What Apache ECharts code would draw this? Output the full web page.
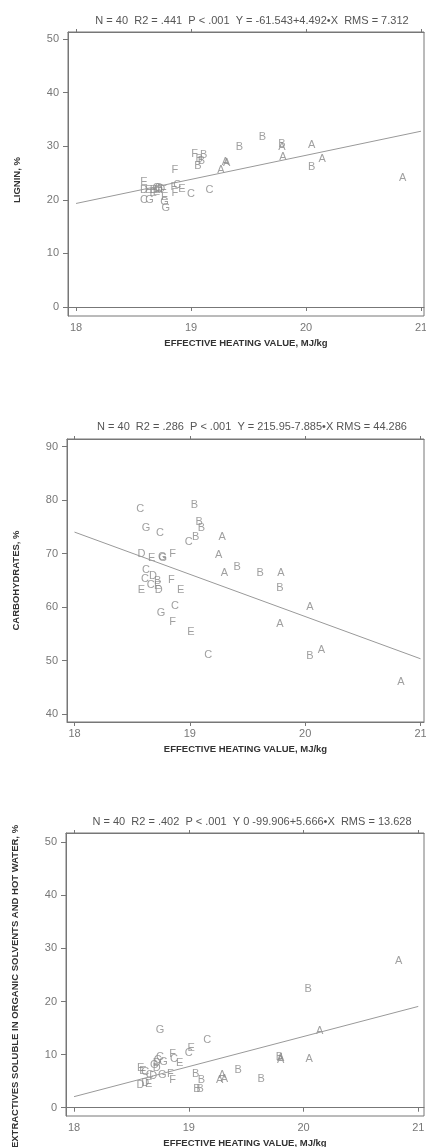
<!DOCTYPE html>
<html>
<head>
<meta charset="utf-8">
<script src="https://cdn.jsdelivr.net/npm/echarts@6/dist/echarts.min.js"></script>
<style>
  html, body { margin: 0; padding: 0; background: #fff; }
  #chart { width: 426px; height: 1147px; }
</style>
</head>
<body>
<div id="chart"></div>
<script>
// tick labels
const xTicks = [18, 19, 20, 21];
const ligninTicks = [0, 10, 20, 30, 40, 50];
const carbTicks = [40, 50, 60, 70, 80, 90];
const extrTicks = [0, 10, 20, 30, 40, 50];

// regression lines: [intercept, slope]
const ligninFit = [-61.543, 4.492];
const carbFit = [215.95, -7.885];
const extrFit = [-99.906, 5.666];

// points: [heating value, percent, group letter]
const ligninPts = [
  [19.79, 29.8, 'A'], [19.80, 27.9, 'A'], [20.05, 30.2, 'A'], [20.14, 27.7, 'A'],
  [20.84, 24.0, 'A'], [19.30, 27.1, 'A'], [19.31, 26.8, 'A'], [19.26, 25.5, 'A'],
  [19.62, 31.8, 'B'], [19.42, 29.8, 'B'], [19.79, 30.5, 'B'], [20.05, 26.1, 'B'],
  [19.11, 28.4, 'B'], [19.07, 27.7, 'B'], [19.09, 27.3, 'B'], [19.06, 26.3, 'B'],
  [18.88, 22.8, 'C'], [19.00, 21.0, 'C'], [19.16, 21.8, 'C'], [18.59, 20.0, 'C'], [18.70, 22.2, 'C'],
  [18.59, 21.8, 'D'], [18.72, 21.9, 'D'], [18.74, 22.1, 'D'],
  [18.59, 23.4, 'E'], [18.92, 22.0, 'E'], [18.63, 21.8, 'E'], [18.77, 20.5, 'E'], [18.67, 21.2, 'E'],
  [18.86, 25.6, 'F'], [19.03, 28.5, 'F'], [18.85, 22.3, 'F'], [18.86, 21.2, 'F'], [18.67, 21.8, 'F'],
  [18.64, 20.0, 'G'], [18.78, 18.4, 'G'], [18.77, 19.6, 'G'], [18.72, 22.2, 'G'], [18.76, 21.8, 'F'], [18.70, 21.4, 'E']
];

const carbPts = [
  [19.28, 73.2, 'A'], [19.25, 69.7, 'A'], [19.30, 66.3, 'A'], [19.79, 66.3, 'A'],
  [20.04, 60.1, 'A'], [19.78, 56.9, 'A'], [20.14, 52.0, 'A'], [20.83, 46.0, 'A'],
  [19.04, 79.0, 'B'], [19.08, 75.9, 'B'], [19.10, 74.7, 'B'], [19.05, 73.2, 'B'],
  [19.41, 67.5, 'B'], [19.61, 66.3, 'B'], [19.78, 63.5, 'B'], [20.04, 50.9, 'B'], [18.72, 64.8, 'B'],
  [18.57, 78.4, 'C'], [18.74, 73.9, 'C'], [18.99, 72.2, 'C'], [18.62, 67.0, 'C'], [18.61, 65.3, 'C'],
  [18.66, 64.2, 'C'], [18.87, 60.3, 'C'], [19.16, 51.1, 'C'],
  [18.58, 70.0, 'D'], [18.68, 65.9, 'D'], [18.73, 63.3, 'D'],
  [18.67, 69.1, 'E'], [18.72, 64.0, 'E'], [18.58, 63.3, 'E'], [18.92, 63.3, 'E'], [19.01, 55.3, 'E'],
  [18.85, 70.0, 'F'], [18.84, 65.1, 'F'], [18.85, 57.2, 'F'],
  [18.62, 74.7, 'G'], [18.76, 69.3, 'G'], [18.765, 69.2, 'G'], [18.75, 58.9, 'G']
];

const extrPts = [
  [20.83, 27.7, 'A'], [20.14, 14.4, 'A'], [19.80, 9.0, 'A'], [19.80, 9.3, 'A'], [20.05, 9.2, 'A'],
  [19.29, 6.1, 'A'], [19.27, 5.2, 'A'], [19.31, 5.5, 'A'],
  [20.04, 22.3, 'B'], [19.79, 9.6, 'B'], [19.43, 7.2, 'B'], [19.63, 5.4, 'B'],
  [19.06, 6.3, 'B'], [19.11, 5.2, 'B'], [19.07, 3.5, 'B'], [19.10, 3.5, 'B'],
  [19.16, 12.7, 'C'], [19.00, 10.4, 'C'], [18.75, 9.5, 'C'], [18.87, 9.1, 'C'], [18.62, 6.7, 'C'], [18.66, 6.1, 'C'],
  [18.72, 8.4, 'D'], [18.72, 7.4, 'D'], [18.69, 5.9, 'D'], [18.58, 4.3, 'D'], [18.62, 4.6, 'D'],
  [19.02, 11.3, 'E'], [18.92, 8.4, 'E'], [18.58, 7.4, 'E'], [18.65, 4.4, 'E'],
  [18.86, 10.1, 'F'], [18.84, 6.4, 'F'], [18.86, 5.2, 'F'],
  [18.75, 14.7, 'G'], [18.78, 8.6, 'G'], [18.77, 6.1, 'G'], [18.70, 8.0, 'G'], [18.60, 7.0, 'E'], [18.73, 9.0, 'C']
];

const titles = [
  'N = 40  R2 = .441  P < .001  Y = -61.543+4.492\u2022X  RMS = 7.312',
  'N = 40  R2 = .286  P < .001  Y = 215.95-7.885\u2022X RMS = 44.286',
  'N = 40  R2 = .402  P < .001  Y 0 -99.906+5.666\u2022X  RMS = 13.628'
];
const yNames = ['LIGNIN, %', 'CARBOHYDRATES, %', 'EXTRACTIVES SOLUBLE IN ORGANIC SOLVENTS AND HOT WATER, %'];
const xName = 'EFFECTIVE HEATING VALUE, MJ/kg';

const font = 'Liberation Sans, Arial, sans-serif';
const frame = '#777';

const panels = [
  { grid: { left: 68, top: 32, width: 356, height: 284 }, x: [17.93, 21.026], y: [-1.68, 51.3], ticks: ligninTicks, pts: ligninPts, fit: ligninFit, titleTop: 10, namePad: [0, 12, 0, 0] },
  { grid: { left: 67, top: 439, width: 357, height: 283 }, x: [17.935, 21.03], y: [38.56, 91.4], ticks: carbTicks, pts: carbPts, fit: carbFit, titleTop: 416, namePad: [0, 0, 0, 0] },
  { grid: { left: 66, top: 833, width: 358, height: 283 }, x: [17.93, 21.05], y: [-1.56, 51.75], ticks: extrTicks, pts: extrPts, fit: extrFit, titleTop: 811, namePad: [0, 24, 0, 0] }
];

const option = { animation: false, title: [], grid: [], xAxis: [], yAxis: [], series: [] };

panels.forEach(function (p, i) {
  option.title.push({
    text: titles[i], left: 247, top: p.titleTop, textAlign: 'center',
    textStyle: { fontFamily: font, fontSize: 11, fontWeight: 'normal', color: '#555' }
  });
  option.grid.push(Object.assign({
    show: true, borderColor: frame, borderWidth: 1,
    containLabel: false, outerBoundsMode: 'none'
  }, p.grid));
  // bottom x axis
  option.xAxis.push({
    type: 'value', gridIndex: i, min: p.x[0], max: p.x[1], position: 'bottom',
    name: xName, nameLocation: 'middle', nameGap: 22,
    nameTextStyle: { fontFamily: font, fontSize: 9.5, fontWeight: 'bold', color: '#333' },
    axisLine: { show: true, lineStyle: { color: frame } },
    axisTick: { show: true, length: 4, customValues: xTicks, lineStyle: { color: frame } },
    axisLabel: { customValues: xTicks, margin: 6, fontFamily: font, fontSize: 11, color: '#777' },
    splitLine: { show: false }
  });
  // top x axis, ticks only
  option.xAxis.push({
    type: 'value', gridIndex: i, min: p.x[0], max: p.x[1], position: 'top',
    axisLine: { show: true, lineStyle: { color: frame } },
    axisTick: { show: true, length: 3, customValues: xTicks, lineStyle: { color: frame } },
    axisLabel: { show: false },
    splitLine: { show: false }
  });
  option.yAxis.push({
    type: 'value', gridIndex: i, min: p.y[0], max: p.y[1],
    name: yNames[i], nameLocation: 'middle', nameGap: 46,
    nameTextStyle: { fontFamily: font, fontSize: 9.5, fontWeight: 'bold', color: '#333', padding: p.namePad },
    axisLine: { show: true, lineStyle: { color: frame } },
    axisTick: { show: true, length: 5, customValues: p.ticks, lineStyle: { color: frame } },
    axisLabel: { customValues: p.ticks, margin: 9, fontFamily: font, fontSize: 11, color: '#777' },
    splitLine: { show: false }
  });
  option.series.push({
    type: 'scatter', xAxisIndex: i * 2, yAxisIndex: i,
    data: p.pts, symbol: 'circle', symbolSize: 1,
    itemStyle: { color: 'rgba(0,0,0,0)' },
    label: {
      show: true, position: 'inside', formatter: function (d) { return d.data[2]; },
      fontFamily: font, fontSize: 11, color: '#888'
    },
    emphasis: { disabled: true }
  });
  option.series.push({
    type: 'line', xAxisIndex: i * 2, yAxisIndex: i,
    data: [[18, p.fit[0] + p.fit[1] * 18], [21, p.fit[0] + p.fit[1] * 21]],
    symbol: 'none', lineStyle: { color: '#999', width: 1 },
    emphasis: { disabled: true }
  });
});

echarts.init(document.getElementById('chart')).setOption(option);
</script>
</body>
</html>
